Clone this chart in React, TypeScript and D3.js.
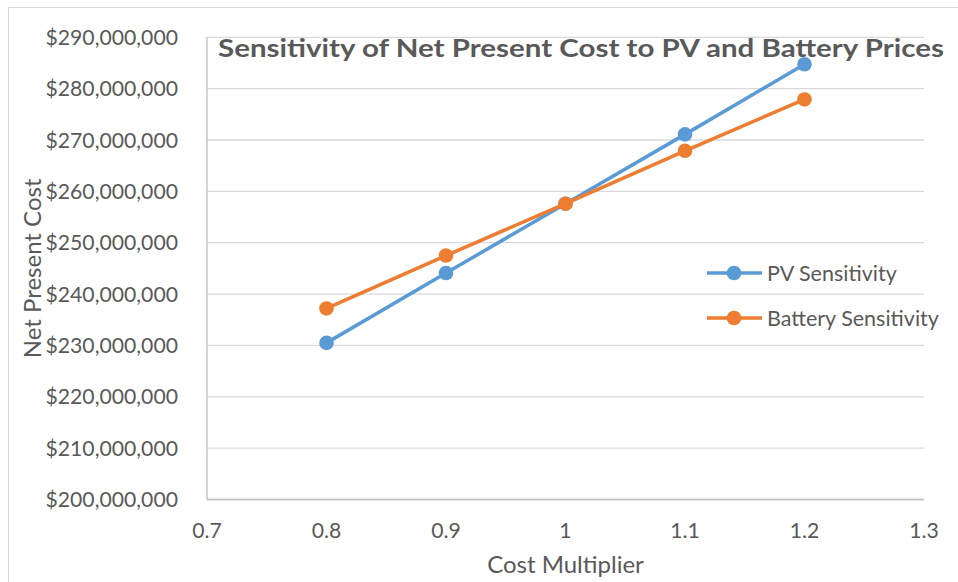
import React from "react";
import * as d3 from "d3";

const multipliers = [0.8, 0.9, 1.0, 1.1, 1.2];
const pvSensitivity = [230.5e6, 244.1e6, 257.6e6, 271.1e6, 284.75e6];
const batterySensitivity = [237.2e6, 247.5e6, 257.6e6, 267.9e6, 277.9e6];
const xTicks = [0.7, 0.8, 0.9, 1.0, 1.1, 1.2, 1.3];
const yTicks = [200e6, 210e6, 220e6, 230e6, 240e6, 250e6, 260e6, 270e6, 280e6, 290e6];
const seriesNames = ["PV Sensitivity", "Battery Sensitivity"];
const seriesColors = ["#5B9BD5", "#ED7D31"];

const W = 958;
const H = 582;
const plot = { left: 207, right: 924, top: 37.3, bottom: 499.5 };
const FONT = "Lato, 'Open Sans', sans-serif";
const TEXT = "#595959";

export default function App() {
  const x = d3.scaleLinear().domain([0.7, 1.3]).range([plot.left, plot.right]);
  const y = d3.scaleLinear().domain([200e6, 290e6]).range([plot.bottom, plot.top]);
  const fmtY = (v: number) => "$" + d3.format(",")(v);
  const fmtX = (v: number) => (v === 1 ? "1" : d3.format(".1f")(v));
  const line = d3
    .line<[number, number]>()
    .x((d) => x(d[0]))
    .y((d) => y(d[1]));
  const series = [pvSensitivity, batterySensitivity];
  const legendY = [273, 318];

  return (
    <svg
      width={W}
      height={H}
      style={{ position: "absolute", left: 0, top: 0, background: "#fff" }}
      fontFamily={FONT}
    >
      <rect x={8.5} y={7.5} width={1200} height={1200} fill="#fff" stroke="#D9D9D9" strokeWidth={1} />
      {yTicks.map((t) => (
        <line
          key={"g" + t}
          x1={plot.left}
          x2={plot.right}
          y1={y(t)}
          y2={y(t)}
          stroke="#D9D9D9"
          strokeWidth={1.3}
        />
      ))}
      <line x1={plot.left} x2={plot.left} y1={plot.top} y2={plot.bottom} stroke="#BFBFBF" strokeWidth={1.3} />
      <line x1={plot.left} x2={plot.right} y1={plot.bottom} y2={plot.bottom} stroke="#BFBFBF" strokeWidth={1.3} />
      {yTicks.map((t) => (
        <text
          key={"yl" + t}
          x={178}
          y={y(t)}
          dy="0.36em"
          textAnchor="end"
          fontSize={21.2}
          fill={TEXT}
        >
          {fmtY(t)}
        </text>
      ))}
      {xTicks.map((t) => (
        <text key={"xl" + t} x={x(t)} y={538} textAnchor="middle" fontSize={21.2} fill={TEXT}>
          {fmtX(t)}
        </text>
      ))}
      <text x={(plot.left + plot.right) / 2} y={573} textAnchor="middle" fontSize={24} fill={TEXT}>
        Cost Multiplier
      </text>
      <text
        transform={`translate(41, ${(plot.top + plot.bottom) / 2}) rotate(-90)`}
        textAnchor="middle"
        fontSize={24}
        fill={TEXT}
      >
        Net Present Cost
      </text>
      {series.map((s, i) => {
        const pts = multipliers.map((m, j) => [m, s[j]] as [number, number]);
        return (
          <g key={"s" + i}>
            <path d={line(pts) || ""} fill="none" stroke={seriesColors[i]} strokeWidth={3.5} strokeLinejoin="round" />
            {pts.map((p, j) => (
              <circle key={j} cx={x(p[0])} cy={y(p[1])} r={7.3} fill={seriesColors[i]} />
            ))}
          </g>
        );
      })}
      <text
        x={581}
        y={57}
        textAnchor="middle"
        fontSize={25}
        fontWeight="bold"
        fill={TEXT}
        textLength={726}
        lengthAdjust="spacingAndGlyphs"
      >
        Sensitivity of Net Present Cost to PV and Battery Prices
      </text>
      {seriesNames.map((n, i) => (
        <g key={"lg" + i}>
          <line x1={707} x2={762} y1={legendY[i]} y2={legendY[i]} stroke={seriesColors[i]} strokeWidth={3.5} />
          <circle cx={734} cy={legendY[i]} r={7.3} fill={seriesColors[i]} />
          <text x={767} y={legendY[i]} dy="0.36em" fontSize={21.5} fill={TEXT}>
            {n}
          </text>
        </g>
      ))}
    </svg>
  );
}
